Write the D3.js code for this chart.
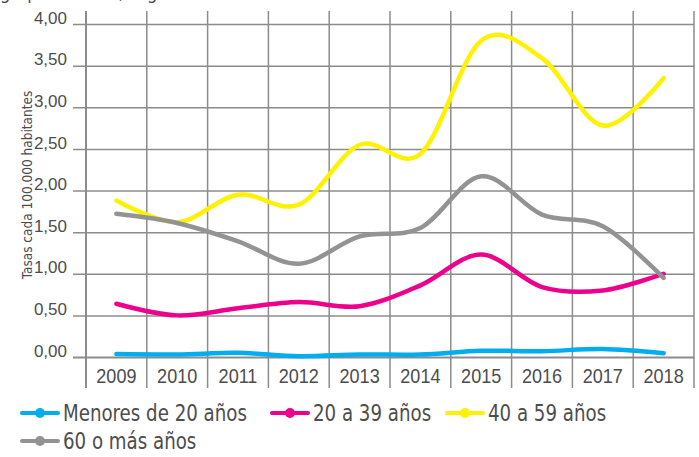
<!DOCTYPE html>
<html>
<head>
<meta charset="utf-8">
<script src="https://cdn.jsdelivr.net/npm/d3@7"></script>
<style>
  body { margin: 0; background: #fff; }
  svg { display: block; font-family: "Liberation Sans Narrow", "DejaVu Sans Condensed", sans-serif; }
</style>
</head>
<body>
<svg id="chart" width="699" height="457"></svg>
<script>
const years = ['2009', '2010', '2011', '2012', '2013', '2014', '2015', '2016', '2017', '2018'];
const menores20 = [0.035, 0.03, 0.05, 0.01, 0.03, 0.03, 0.075, 0.07, 0.095, 0.045];
const de20a39 = [0.64, 0.50, 0.585, 0.66, 0.61, 0.86, 1.23, 0.84, 0.80, 1.00];
const de40a59 = [1.88, 1.62, 1.95, 1.83, 2.55, 2.44, 3.80, 3.59, 2.78, 3.35];
const de60mas = [1.72, 1.61, 1.39, 1.12, 1.45, 1.55, 2.17, 1.71, 1.57, 0.95];
const yTicks = [0, 0.5, 1, 1.5, 2, 2.5, 3, 3.5, 4];

const series = [
  {name: 'Menores de 20 años', values: menores20, color: '#00aeef'},
  {name: '20 a 39 años', values: de20a39, color: '#ec008c'},
  {name: '40 a 59 años', values: de40a59, color: '#fff200'},
  {name: '60 o más años', values: de60mas, color: '#939393'}
];

const GRID = '#8c8c8c';
const TEXT = '#4d4d4d';

const svg = d3.select('#chart');

const x = d3.scaleBand().domain(years).range([86, 694]);
const y = d3.scaleLinear().domain([0, 4]).range([357, 24]);

// title, cut off at the top edge like in the source image
svg.append('text')
  .attr('x', 0)
  .attr('y', -1)
  .attr('font-size', 18)
  .attr('fill', TEXT)
  .text('grupo de edad, según año');

// horizontal grid + y ticks
const yAxis = d3.axisLeft(y)
  .tickValues(yTicks)
  .tickSize(0)
  .tickPadding(6)
  .tickFormat(d => d3.format('.2f')(d).replace('.', ','));

const gy = svg.append('g')
  .attr('transform', 'translate(73,0)')
  .call(yAxis);
gy.select('.domain').remove();
gy.selectAll('.tick text')
  .attr('font-size', 17)
  .attr('fill', TEXT)
  .attr('dy', '-0.05em');
gy.selectAll('.tick line')
  .attr('x2', 621)
  .attr('stroke', GRID)
  .attr('stroke-width', d => d === 0 ? 2.2 : 1.5);

// vertical grid at band edges
const edges = years.map(d => x(d)).concat([x.range()[1]]);
svg.append('g')
  .selectAll('line')
  .data(edges)
  .join('line')
  .attr('x1', d => d)
  .attr('x2', d => d)
  .attr('y1', 11)
  .attr('y2', 388)
  .attr('stroke', GRID)
  .attr('stroke-width', (d, i) => i === 0 ? 2 : 1.5);

// x labels
const xAxis = d3.axisBottom(x).tickSize(0).tickPadding(10);
const gx = svg.append('g')
  .attr('transform', 'translate(0,357)')
  .call(xAxis);
gx.select('.domain').remove();
gx.selectAll('.tick text')
  .attr('font-size', 21)
  .attr('fill', TEXT)
  .attr('dy', '0.78em')
  .attr('transform', 'scale(0.86,1)');

// y title
svg.append('text')
  .attr('transform', 'translate(32,185) rotate(-90)')
  .attr('text-anchor', 'middle')
  .attr('font-size', 13.5)
  .attr('fill', TEXT)
  .text('Tasas cada 100.000 habitantes');

// lines
const line = d3.line()
  .x((d, i) => x(years[i]) + x.bandwidth() / 2)
  .y(d => y(d))
  .curve(d3.curveCardinal.tension(0));

svg.append('g')
  .selectAll('path')
  .data(series)
  .join('path')
  .attr('d', d => line(d.values))
  .attr('fill', 'none')
  .attr('stroke', d => d.color)
  .attr('stroke-width', 4.5)
  .attr('stroke-linecap', 'round');

// legend
const legendPos = [[22, 413], [272, 413], [447, 413], [22, 441]];
const lg = svg.append('g')
  .selectAll('g')
  .data(series)
  .join('g')
  .attr('transform', (d, i) => `translate(${legendPos[i][0]},${legendPos[i][1]})`);

lg.append('line')
  .attr('x1', 0)
  .attr('x2', 36)
  .attr('stroke', d => d.color)
  .attr('stroke-width', 4)
  .attr('stroke-linecap', 'round');
lg.append('circle')
  .attr('cx', 18)
  .attr('r', 5)
  .attr('fill', d => d.color);
lg.append('text')
  .attr('transform', 'translate(41,0) scale(0.88,1)')
  .attr('dy', '0.35em')
  .attr('font-size', 23)
  .attr('fill', TEXT)
  .text(d => d.name);
</script>
</body>
</html>
